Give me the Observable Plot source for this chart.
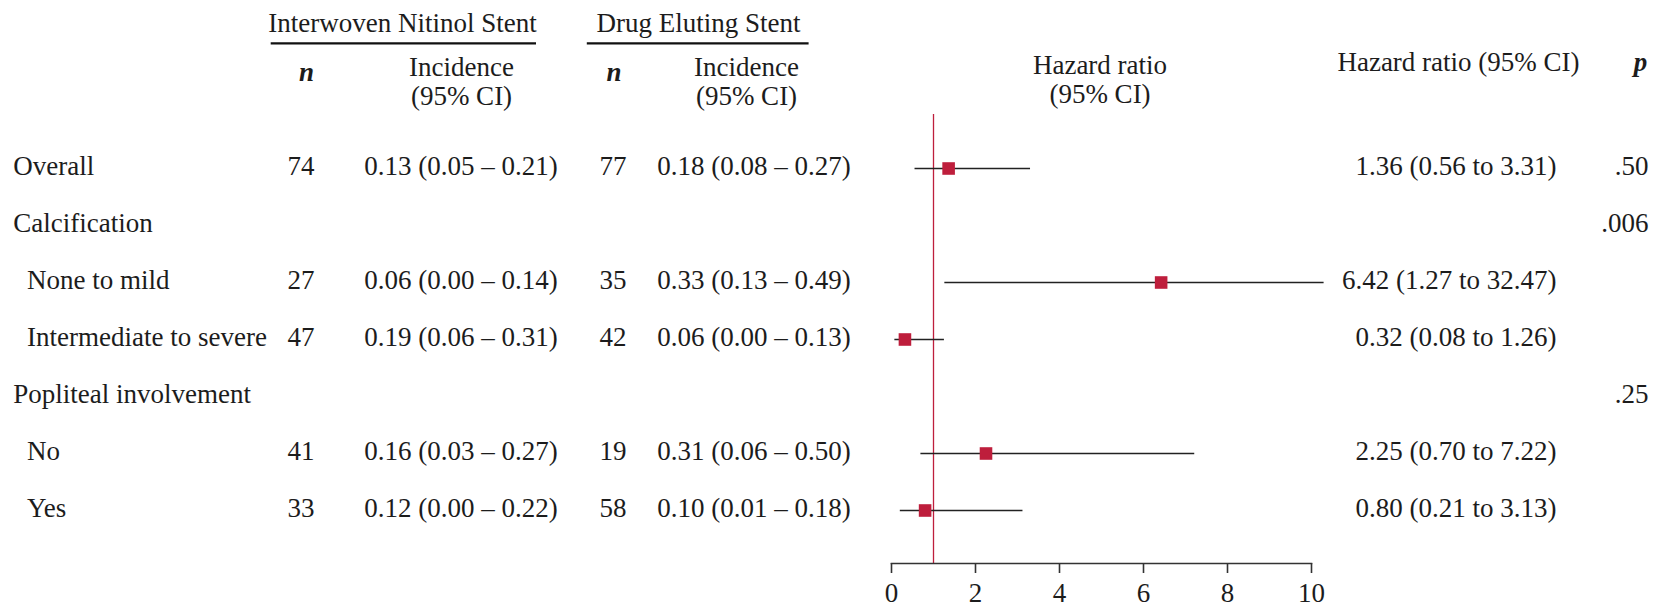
<!DOCTYPE html>
<html><head><meta charset="utf-8">
<script src="https://cdn.jsdelivr.net/npm/d3@7"></script>
<script src="https://cdn.jsdelivr.net/npm/@observablehq/plot@0.6"></script>
<style>body{margin:0;background:#fff} svg{display:block}</style>
</head><body><div id="chart"></div>
<script>
// ---- data ----
const labels = ["Overall", "Calcification", "None to mild", "Intermediate to severe", "Popliteal involvement", "No", "Yes"];
const levels = [0, 0, 1, 1, 0, 1, 1];
const insN   = [74, null, 27, 47, null, 41, 33];
const insInc = [0.13, null, 0.06, 0.19, null, 0.16, 0.12];
const insLo  = [0.05, null, 0.00, 0.06, null, 0.03, 0.00];
const insHi  = [0.21, null, 0.14, 0.31, null, 0.27, 0.22];
const desN   = [77, null, 35, 42, null, 19, 58];
const desInc = [0.18, null, 0.33, 0.06, null, 0.31, 0.10];
const desLo  = [0.08, null, 0.13, 0.00, null, 0.06, 0.01];
const desHi  = [0.27, null, 0.49, 0.13, null, 0.50, 0.18];
const hr     = [1.36, null, 6.42, 0.32, null, 2.25, 0.80];
const hrLo   = [0.56, null, 1.27, 0.08, null, 0.70, 0.21];
const hrHi   = [3.31, null, 32.47, 1.26, null, 7.22, 3.13];
const pVals  = [".50", ".006", null, null, ".25", null, null];
const xTicks = [0, 2, 4, 6, 8, 10];
const groupHeaders = ["Interwoven Nitinol Stent", "Drug Eluting Stent"];

// ---- layout ----
const W = 1664, H = 606, mL = 891, mR = 353, mT = 114, mB = 43;
const fs = 27, ink = "#1c1c1c", red = "#be1e3c";
const lineClip = 10.3;
const f2 = d3.format(".2f");
const ci = (e, l, h) => e == null ? "" : `${f2(e)} (${f2(l)} – ${f2(h)})`;

const rows = labels.map((label, i) => ({
  label, level: levels[i],
  insN: insN[i] == null ? "" : String(insN[i]),
  insTxt: ci(insInc[i], insLo[i], insHi[i]),
  desN: desN[i] == null ? "" : String(desN[i]),
  desTxt: ci(desInc[i], desLo[i], desHi[i]),
  hr: hr[i], lo: hrLo[i], hi: hrHi[i] == null ? null : Math.min(hrHi[i], lineClip),
  hrTxt: hr[i] == null ? "" : `${f2(hr[i])} (${f2(hrLo[i])} to ${f2(hrHi[i])})`,
  p: pVals[i] ?? ""
}));
const est = rows.filter(d => d.hr != null);

const col = (field, x, anchor, extra = {}) => Plot.text(rows, {
  y: "label", text: field, frameAnchor: "left", dx: x - mL, dy: -2,
  textAnchor: anchor, lineAnchor: "middle", fontSize: fs, fill: ink, ...extra
});
const hdr = (text, x, baseline, extra = {}) => Plot.text([text], {
  text: d => d, frameAnchor: "top-left", dx: x - mL, dy: baseline - mT,
  lineAnchor: "bottom", textAnchor: "middle", fontSize: fs, fill: ink, lineHeight: 1.07, ...extra
});

const chart = Plot.plot({
  width: W, height: H,
  marginLeft: mL, marginRight: mR, marginTop: mT, marginBottom: mB,
  style: {fontFamily: "'Liberation Serif', 'Times New Roman', serif", fontSize: fs + "px", color: ink, background: "#fff", overflow: "visible"},
  x: {domain: [0, 10], axis: null},
  y: {type: "point", domain: labels, padding: 0.887, axis: null},
  marks: [
    Plot.ruleX([1], {stroke: red, strokeWidth: 1.3}),
    Plot.frame({anchor: "bottom", stroke: "#333", strokeWidth: 1.6}),
    Plot.axisX({ticks: xTicks, tickSize: 10, tickPadding: 9, fontSize: fs, stroke: "#333", strokeWidth: 1.6, fill: ink}),
    Plot.ruleY(est, {y: "label", x1: "lo", x2: "hi", stroke: "#222", strokeWidth: 1.5}),
    Plot.dot(est, {y: "label", x: "hr", symbol: "square", r: 7.1, fill: red, stroke: null}),
    // table body
    Plot.text(rows.filter(d => d.level === 0), {y: "label", text: "label", frameAnchor: "left", dx: 12.7 - mL, dy: -2, textAnchor: "start", lineAnchor: "middle", fontSize: fs, fill: ink}),
    Plot.text(rows.filter(d => d.level === 1), {y: "label", text: "label", frameAnchor: "left", dx: 26.5 - mL, dy: -2, textAnchor: "start", lineAnchor: "middle", fontSize: fs, fill: ink}),
    col("insN", 300.5, "middle"),
    col("insTxt", 460.5, "middle"),
    col("desN", 612.5, "middle"),
    col("desTxt", 753.5, "middle"),
    col("hrTxt", 1556, "end"),
    col("p", 1648, "end"),
    // headers
    hdr(groupHeaders[0], 402, 31),
    hdr(groupHeaders[1], 698, 31),
    hdr("n", 306, 80, {fontStyle: "italic", fontWeight: "bold"}),
    hdr("n", 613.5, 80, {fontStyle: "italic", fontWeight: "bold"}),
    hdr("Incidence\n(95% CI)", 461, 104),
    hdr("Incidence\n(95% CI)", 746, 104),
    hdr("Hazard ratio\n(95% CI)", 1099.5, 102),
    hdr("Hazard ratio (95% CI)", 1458, 70),
    hdr("p", 1640, 70, {fontStyle: "italic", fontWeight: "bold"})
  ]
});

// group header underlines
const svg = d3.select(chart);
[[270.7, 536], [586.8, 808.6]].forEach(([a, b]) => {
  svg.append("line").attr("x1", a).attr("x2", b).attr("y1", 43.3).attr("y2", 43.3)
    .attr("stroke", "#111").attr("stroke-width", 2.2);
});
document.getElementById("chart").appendChild(chart);
</script>
</body></html>
